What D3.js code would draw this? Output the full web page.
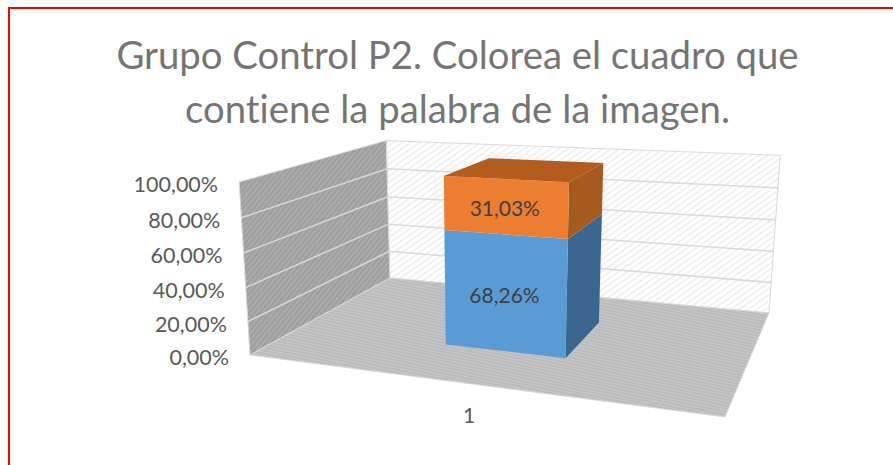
<!DOCTYPE html>
<html lang="en">

<head>
    <meta charset="UTF-8">
    <title>Grupo Control P2</title>
    <script src="https://d3js.org/d3.v7.min.js"></script>
    <style>
        html, body { margin: 0; padding: 0; background: #fff; overflow: hidden; }
        text { font-family: "Lato", sans-serif; font-variant-ligatures: none; }
    </style>
</head>

<body>
    <div id="chart"></div>
    <script>
        const titleLines = ["Grupo Control P2. Colorea el cuadro que", "contiene la palabra de la imagen."];
        const categories = ["1"];
        const seriesValues = [68.26, 31.03];
        const seriesFill = ["#5b9bd5", "#ed7d31"];
        const seriesSide = ["#3a6690", "#a65a1f"];
        const seriesTop = ["#41719c", "#b35c20"];
        const yTicks = [0, 20, 40, 60, 80, 100];

        const width = 893, height = 465;

        // corners of the floor as seen in the picture, and where the verticals meet
        const floorQuad = [[250, 355], [725, 417], [769, 313], [390, 278]];
        const vanish = [492, 4188];
        const heightPull = -0.0432;

        // unit square -> quad, homogeneous result
        function homography(q) {
            const [A, B, C, D] = q;
            const det = (p, r) => p[0] * r[1] - r[0] * p[1];
            const dx1 = [B[0] - C[0], B[1] - C[1]];
            const dx2 = [D[0] - C[0], D[1] - C[1]];
            const s = [A[0] - B[0] + C[0] - D[0], A[1] - B[1] + C[1] - D[1]];
            const g = det(s, dx2) / det(dx1, dx2);
            const h = det(dx1, s) / det(dx1, dx2);
            const a = B[0] - A[0] + g * B[0], b = D[0] - A[0] + h * D[0];
            const d = B[1] - A[1] + g * B[1], e = D[1] - A[1] + h * D[1];
            return (u, v) => [a * u + b * v + A[0], d * u + e * v + A[1], g * u + h * v + 1];
        }

        const floorAt = homography(floorQuad);
        const y = d3.scaleLinear().domain([0, 100]).range([0, heightPull]);

        // u along the category axis, v into the depth, value up
        function project(u, v, value) {
            const p = floorAt(u, v), k = y(value);
            const w = p[2] + k;
            return [(p[0] + k * vanish[0]) / w, (p[1] + k * vanish[1]) / w];
        }

        const xBand = d3.scaleBand().domain(categories).range([0, 1.01]).paddingOuter(1.35).paddingInner(0);
        const zBand = d3.scaleBand().domain(categories).range([0, 1]).paddingOuter(0.78).paddingInner(0);

        const poly = pts => "M" + pts.map(p => p[0].toFixed(1) + "," + p[1].toFixed(1)).join("L") + "Z";

        const svg = d3.select("#chart").append("svg")
            .attr("width", width)
            .attr("height", height);

        const defs = svg.append("defs");

        function hatch(id, base, stripe, size, angle, sw) {
            const p = defs.append("pattern")
                .attr("id", id)
                .attr("width", size)
                .attr("height", size)
                .attr("patternUnits", "userSpaceOnUse")
                .attr("patternTransform", "rotate(" + angle + ")");
            p.append("rect").attr("width", size).attr("height", size).attr("fill", base);
            p.append("line")
                .attr("x1", 0).attr("x2", size)
                .attr("y1", size / 2).attr("y2", size / 2)
                .attr("stroke", stripe)
                .attr("stroke-width", sw);
        }
        hatch("hatchLeft", "#9e9e9e", "#ababab", 4, -50, 2);
        hatch("hatchBack", "#ffffff", "#ececec", 5, -35, 1.6);
        hatch("hatchFloor", "#b8b8b8", "#c8c8c8", 3, 12, 1.4);

        // red frame, cut by the image edge on the right and bottom
        svg.append("path")
            .attr("d", "M9,465V8H" + width)
            .attr("fill", "none")
            .attr("stroke", "#ff0000")
            .attr("stroke-width", 2);

        // title
        svg.selectAll("text.title")
            .data(titleLines)
            .enter()
            .append("text")
            .attr("class", "title")
            .attr("x", 457.5)
            .attr("y", (d, i) => 69 + i * 54)
            .attr("text-anchor", "middle")
            .attr("fill", "#757575")
            .style("font-size", "38.3px")
            .text(d => d);

        // walls and floor
        const edge = "#d9d9d9";
        svg.append("path")
            .attr("d", poly([project(0, 0, 0), project(0, 1, 0), project(0, 1, 100), project(0, 0, 100)]))
            .attr("fill", "url(#hatchLeft)")
            .attr("stroke", edge);
        svg.append("path")
            .attr("d", poly([project(0, 1, 0), project(1, 1, 0), project(1, 1, 100), project(0, 1, 100)]))
            .attr("fill", "url(#hatchBack)")
            .attr("stroke", edge);
        svg.append("path")
            .attr("d", poly([project(0, 0, 0), project(1, 0, 0), project(1, 1, 0), project(0, 1, 0)]))
            .attr("fill", "url(#hatchFloor)")
            .attr("stroke", edge);

        // gridlines on both walls
        const grid = svg.append("g")
            .attr("fill", "none")
            .attr("stroke", edge)
            .attr("stroke-width", 1.5);
        yTicks.slice(1, -1).forEach(t => {
            grid.append("path").attr("d", d3.line()([project(0, 0, t), project(0, 1, t), project(1, 1, t)]));
        });

        // value axis labels follow the front edge of the left wall
        svg.selectAll("text.ytick")
            .data(yTicks)
            .enter()
            .append("text")
            .attr("class", "ytick")
            .attr("x", d => project(0, 0, d)[0] - 21)
            .attr("y", d => project(0, 0, d)[1] + 10)
            .attr("text-anchor", "end")
            .attr("fill", "#595959")
            .style("font-size", "21.5px")
            .text(d => d3.format(".2f")(d).replace(".", ",") + "%");

        // stacked 3D column
        const u0 = xBand(categories[0]), u1 = u0 + xBand.bandwidth();
        const v0 = zBand(categories[0]), v1 = v0 + zBand.bandwidth();
        const stacks = d3.cumsum(seriesValues);

        seriesValues.forEach((value, i) => {
            const lo = stacks[i] - value, hi = stacks[i];
            const g = svg.append("g");
            g.append("path")
                .attr("d", poly([project(u1, v0, lo), project(u1, v1, lo), project(u1, v1, hi), project(u1, v0, hi)]))
                .attr("fill", seriesSide[i]);
            g.append("path")
                .attr("d", poly([project(u0, v0, lo), project(u1, v0, lo), project(u1, v0, hi), project(u0, v0, hi)]))
                .attr("fill", seriesFill[i]);
            if (i === seriesValues.length - 1) {
                g.append("path")
                    .attr("d", poly([project(u0, v0, hi), project(u1, v0, hi), project(u1, v1, hi), project(u0, v1, hi)]))
                    .attr("fill", seriesTop[i]);
            }
            const mid = project((u0 + u1) / 2, v0, (lo + hi) / 2);
            g.append("text")
                .attr("x", mid[0])
                .attr("y", mid[1] + 9)
                .attr("text-anchor", "middle")
                .attr("fill", "#404040")
                .style("font-size", "21px")
                .text(d3.format(".2f")(value).replace(".", ",") + "%");
        });

        // category label
        const cat = project((u0 + u1) / 2, 0, 0);
        svg.append("text")
            .attr("x", cat[0] + 1)
            .attr("y", 423)
            .attr("text-anchor", "middle")
            .attr("fill", "#595959")
            .style("font-size", "21px")
            .text(categories[0]);
    </script>
</body>

</html>
